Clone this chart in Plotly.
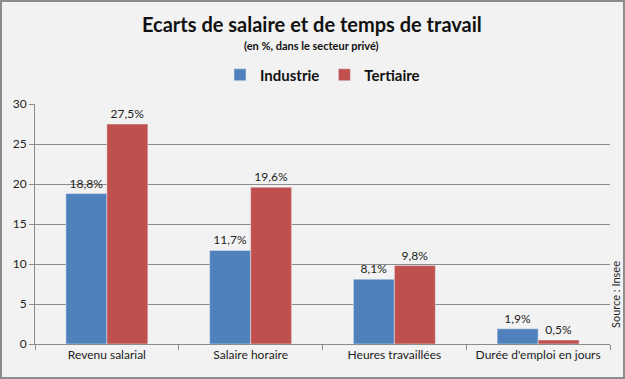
import plotly.graph_objects as go

categories = ["Revenu salarial", "Salaire horaire", "Heures travaillées", "Durée d'emploi en jours"]
industrie = [18.8, 11.7, 8.1, 1.9]
tertiaire = [27.5, 19.6, 9.8, 0.5]
y_ticks = [0, 5, 10, 15, 20, 25, 30]

def lab(vals):
    return [f"{v:.1f}%".replace(".", ",") for v in vals]

W, H = 625, 379
ml, mr, mt, mb = 35, 15, 104, 35
pw, ph = W - ml - mr, H - mt - mb

def py(pix):  # pixel y from top -> paper y
    return (H - mb - pix) / ph

fig = go.Figure()
fig.add_trace(go.Bar(name="Industrie", x=categories, y=industrie, marker_color="#4f81bd",
                     text=lab(industrie), textposition="outside", cliponaxis=False,
                     textfont=dict(size=12, color="#222")))
fig.add_trace(go.Bar(name="Tertiaire", x=categories, y=tertiaire, marker_color="#c0504d",
                     text=lab(tertiaire), textposition="outside", cliponaxis=False,
                     textfont=dict(size=12, color="#222")))

fig.update_layout(
    width=W, height=H,
    margin=dict(l=ml, r=mr, t=mt, b=mb),
    paper_bgcolor="#f2f2f2", plot_bgcolor="#f2f2f2",
    font=dict(family="Lato, Open Sans, sans-serif", size=11, color="#222"),
    barmode="group", bargap=0.43, bargroupgap=0,
    showlegend=True,
    legend=dict(orientation="h", x=0.5, xanchor="center", y=py(75), yanchor="middle",
                font=dict(size=15, color="#111", family="Lato, sans-serif", weight="bold"),
                itemwidth=30, traceorder="normal"),
)
fig.add_annotation(text="<b>Ecarts de salaire et de temps de travail</b>", xref="paper", yref="paper",
                   x=(312 - ml) / pw, y=py(24), showarrow=False, xanchor="center", yanchor="middle",
                   font=dict(size=20, color="#111", family="Lato, sans-serif"))
fig.add_annotation(text="<b>(en %, dans le secteur privé)</b>", xref="paper", yref="paper",
                   x=(311 - ml) / pw, y=py(45), showarrow=False, xanchor="center", yanchor="middle",
                   font=dict(size=11, color="#111", family="Lato, sans-serif"))
fig.update_yaxes(range=[0, 30], tickvals=y_ticks, showgrid=True, gridcolor="#8c8c8c", gridwidth=1,
                 showline=True, linecolor="#8c8c8c", ticks="outside", ticklen=5, tickcolor="#8c8c8c",
                 tickfont=dict(size=12, color="#222"), zeroline=False, fixedrange=True)
fig.update_xaxes(showline=True, linecolor="#8c8c8c", ticks="outside", tickson="boundaries", ticklen=5,
                 tickcolor="#8c8c8c", tickfont=dict(size=12, color="#222"), showgrid=False)

fig.add_annotation(text="Source : Insee", xref="paper", yref="paper", x=1 + 5 / pw, y=py(295),
                   textangle=-90, showarrow=False, xanchor="center", yanchor="middle",
                   font=dict(size=11, color="#222"))
fig.add_shape(type="rect", xref="paper", yref="paper",
              x0=-(ml - 1) / pw, x1=1 + (mr - 1) / pw, y0=-(mb - 1) / ph, y1=1 + (mt - 1) / ph,
              line=dict(color="#8c8c8c", width=2), fillcolor="rgba(0,0,0,0)", layer="above")

fig.write_html("out.html", config={"displayModeBar": False})
with open("out.html", encoding="utf-8") as f:
    html = f.read()
html = html.replace("<head>", "<head><style>html,body{margin:0;padding:0;overflow:hidden;}</style>", 1)
with open("out.html", "w", encoding="utf-8") as f:
    f.write(html)
